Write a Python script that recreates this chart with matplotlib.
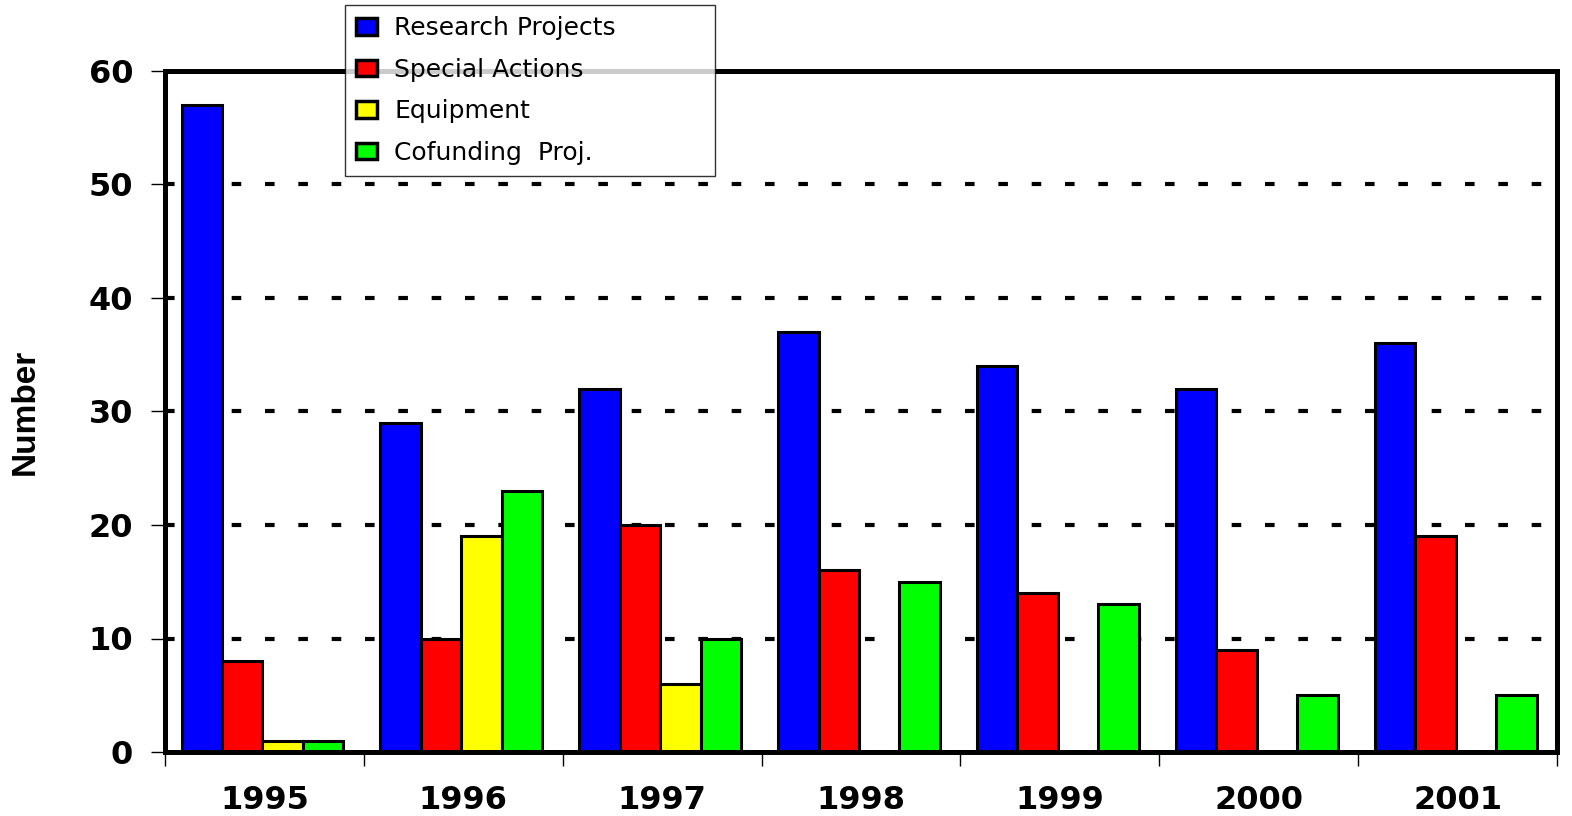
import matplotlib
matplotlib.use("Agg")
import matplotlib.pyplot as plt
import numpy as np
from matplotlib.ticker import FixedLocator

years = ["1995", "1996", "1997", "1998", "1999", "2000", "2001"]
series_names = ["Research Projects", "Special Actions", "Equipment", "Cofunding  Proj."]
research = [57, 29, 32, 37, 34, 32, 36]
special = [8, 10, 20, 16, 14, 9, 19]
equipment = [1, 19, 6, 0, 0, 0, 0]
cofunding = [1, 23, 10, 15, 13, 5, 5]
colors = ["#0000FF", "#FF0000", "#FFFF00", "#00FF00"]
yticks = [0, 10, 20, 30, 40, 50, 60]

plt.rcParams['font.family'] = ['DejaVu Sans']

fig = plt.figure(figsize=(15.72, 8.16), dpi=100)
ax = fig.add_axes([165/1572, 1-752/816, (1557-165)/1572, (752-71)/816])

x = np.arange(len(years))
w = 0.2035
data = [research, special, equipment, cofunding]
handles = []
for i, (vals, c, name) in enumerate(zip(data, colors, series_names)):
    b = ax.bar(x + (i - 1.5) * w - 0.01, vals, width=w, color=c, edgecolor='black',
               linewidth=2.2, label=name, zorder=3)
    handles.append(b)

ax.set_xlim(-0.5, len(years) - 0.5)
ax.set_ylim(0, 60)
ax.set_yticks(yticks)
ax.set_yticklabels([str(v) for v in yticks], fontsize=23, fontweight='bold')
ax.set_xticks(x)
ax.set_xticklabels(years, fontsize=23, fontweight='bold')
ax.xaxis.set_minor_locator(FixedLocator(np.arange(-0.5, len(years), 1.0)))
ax.tick_params(axis='x', which='major', length=0, pad=24)
ax.tick_params(axis='x', which='minor', length=10, width=1, direction='out')
ax.tick_params(axis='y', which='major', length=10, width=1, direction='out', pad=13)

for v in yticks[1:-1]:
    ax.axhline(v, color='black', linewidth=3, linestyle=(0, (2.3, 5.7)), zorder=1)

for s in ax.spines.values():
    s.set_linewidth(3.6)
    s.set_zorder(4)

ax.set_ylabel("Number", fontsize=24, fontweight='bold', family=['Liberation Sans', 'DejaVu Sans'])
ax.yaxis.set_label_coords(-0.089, 0.5)

leg = fig.legend(handles=handles, loc='upper left',
                 bbox_to_anchor=(345/1572, 1-5/816, (715-345)/1572, 0.0),
                 mode='expand', fontsize=18, frameon=True, fancybox=False,
                 edgecolor='black', handlelength=0.84, handleheight=0.66,
                 handletextpad=0.68, labelspacing=0.7, borderpad=0.45,
                 borderaxespad=0)
leg.get_frame().set_linewidth(1.0)
leg.set_zorder(10)
for p in leg.get_patches():
    p.set_linewidth(2.5)

fig.savefig("out.png", dpi=100)
